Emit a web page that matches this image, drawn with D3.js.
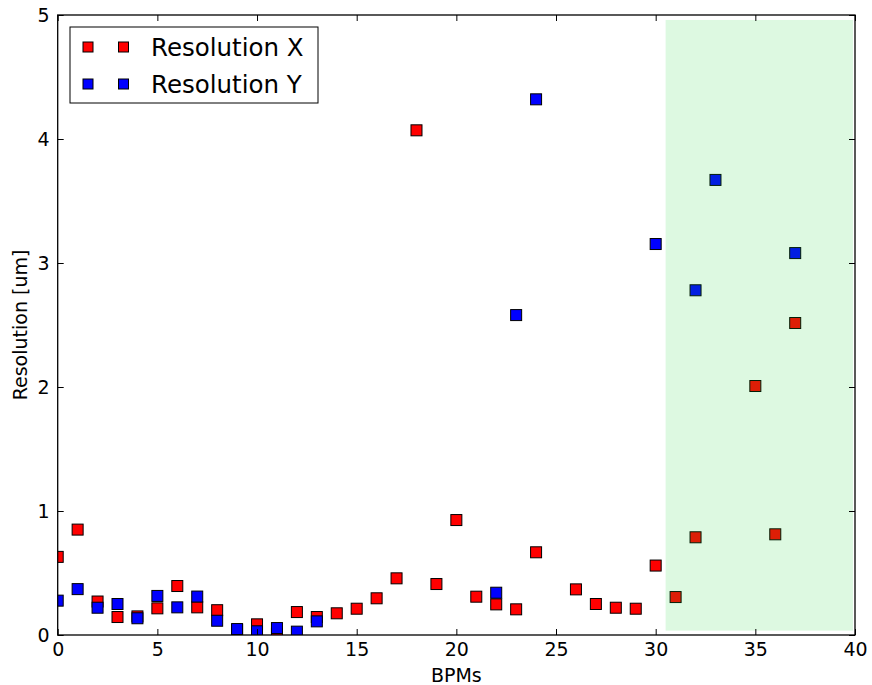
<!DOCTYPE html>
<html>
<head>
<meta charset="utf-8">
<script src="https://cdn.jsdelivr.net/npm/d3@7"></script>
<style>
  html, body { margin: 0; padding: 0; background: #fff; }
  text { font-family: "DejaVu Sans", sans-serif; fill: #000; }
</style>
</head>
<body>
<svg id="chart" width="872" height="685"></svg>
<script>
// ---- data ----
const bpms = d3.range(0, 38);
const resolutionX = [0.63, 0.85, 0.27, 0.145, 0.15, 0.215, 0.395, 0.223, 0.20, 0.04,
  0.086, 0.01, 0.185, 0.145, 0.175, 0.212, 0.296, 0.457, 4.07, 0.411,
  0.927, 0.309, 0.247, 0.207, 0.667, null, 0.368, 0.25, 0.22, 0.212,
  0.56, 0.306, 0.788, null, null, 2.008, 0.812, 2.516];
const resolutionY = [0.277, 0.37, 0.22, 0.25, 0.135, 0.315, 0.223, 0.31, 0.115, 0.048,
  0.03, 0.056, 0.027, 0.11, null, null, null, null, null, null,
  null, null, 0.341, 2.58, 4.32, null, null, null, null, null,
  3.153, null, 2.78, 3.67, null, null, null, 3.08];
const xTicks = [0, 5, 10, 15, 20, 25, 30, 35, 40];
const yTicks = [0, 1, 2, 3, 4, 5];
const seriesNames = ["Resolution X", "Resolution Y"];
const seriesColors = ["#ff0000", "#0000ff"];
const spanX = [30.5, 39.9];
const spanY = [0.035, 4.96];

// ---- layout ----
const svg = d3.select("#chart");
const L = 57.7, T = 15, W = 797.3, H = 620;
const x = d3.scaleLinear().domain([0, 40]).range([L, L + W]);
const y = d3.scaleLinear().domain([0, 5]).range([T + H, T]);

svg.append("defs").append("clipPath").attr("id", "clip")
  .append("rect").attr("x", L).attr("y", T).attr("width", W).attr("height", H);

const plot = svg.append("g").attr("clip-path", "url(#clip)");
const ms = 11;

[resolutionX, resolutionY].forEach((vals, si) => {
  const pts = bpms.map((b, i) => ({ b, v: vals[i] })).filter(d => d.v !== null);
  plot.selectAll(null).data(pts).enter().append("rect")
    .attr("x", d => x(d.b) - ms / 2)
    .attr("y", d => y(d.v) - ms / 2)
    .attr("width", ms).attr("height", ms)
    .attr("fill", seriesColors[si])
    .attr("stroke", "#000").attr("stroke-width", 1);
});

// green span drawn on top (semi-transparent)
plot.append("rect")
  .attr("x", x(spanX[0])).attr("y", y(spanY[1]))
  .attr("width", x(spanX[1]) - x(spanX[0]))
  .attr("height", y(spanY[0]) - y(spanY[1]))
  .attr("fill", "rgb(12,212,41)").attr("fill-opacity", 0.14);

// ---- axes (ticks inward on all sides) ----
const tl = 6;
const axB = svg.append("g").attr("transform", `translate(0,${T + H})`)
  .call(d3.axisBottom(x).tickValues(xTicks).tickFormat(d3.format("d")).tickSizeInner(-tl).tickSizeOuter(0).tickPadding(8));
const axT = svg.append("g").attr("transform", `translate(0,${T})`)
  .call(d3.axisTop(x).tickValues(xTicks).tickFormat("").tickSizeInner(-tl).tickSizeOuter(0));
const axL = svg.append("g").attr("transform", `translate(${L},0)`)
  .call(d3.axisLeft(y).tickValues(yTicks).tickFormat(d3.format("d")).tickSizeInner(-tl).tickSizeOuter(0).tickPadding(8));
const axR = svg.append("g").attr("transform", `translate(${L + W},0)`)
  .call(d3.axisRight(y).tickValues(yTicks).tickFormat("").tickSizeInner(-tl).tickSizeOuter(0));
[axB, axT, axL, axR].forEach(a => {
  a.select(".domain").remove();
  a.selectAll(".tick line").attr("stroke", "#000").attr("stroke-width", 1);
  a.selectAll("text").style("font-family", "DejaVu Sans").style("font-size", "19px").attr("fill", "#000");
});
axB.selectAll("text").attr("dy", "0.71em");
axL.selectAll("text").attr("dy", "0.36em");

// frame
svg.append("rect").attr("x", L).attr("y", T).attr("width", W).attr("height", H)
  .attr("fill", "none").attr("stroke", "#000").attr("stroke-width", 1.3);

// labels
svg.append("text").attr("x", L + W / 2).attr("y", 682).attr("text-anchor", "middle")
  .style("font-size", "19px").text("BPMs");
svg.append("text").attr("transform", `translate(27,${T + H / 2}) rotate(-90)`)
  .attr("text-anchor", "middle").style("font-size", "19px").text("Resolution [um]");

// legend
const lg = svg.append("g");
lg.append("rect").attr("x", 70).attr("y", 27).attr("width", 248).attr("height", 76)
  .attr("fill", "#fff").attr("stroke", "#000").attr("stroke-width", 1);
const lms = 10;
seriesNames.forEach((name, i) => {
  const cy = 47 + i * 37;
  [88, 123.5].forEach(cx => {
    lg.append("rect").attr("x", cx - lms / 2).attr("y", cy - lms / 2)
      .attr("width", lms).attr("height", lms)
      .attr("fill", seriesColors[i]).attr("stroke", "#000").attr("stroke-width", 1);
  });
  lg.append("text").attr("x", 151).attr("y", cy).attr("dy", "0.36em")
    .style("font-size", "24.5px").text(name);
});
</script>
</body>
</html>
